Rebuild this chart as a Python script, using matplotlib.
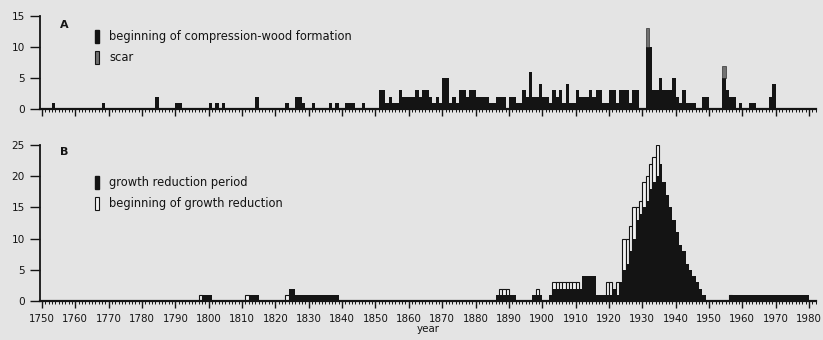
import matplotlib
matplotlib.use("Agg")
import matplotlib.pyplot as plt
from matplotlib.patches import Patch
from matplotlib.ticker import MultipleLocator

# Panel A: compression wood / scars per year (only non-zero years listed)
years_a = [1753, 1768, 1784, 1790, 1791, 1800, 1802, 1804, 1814, 1823,
           1826, 1827, 1828, 1831, 1836, 1838, 1841, 1842, 1843, 1846,
           1851, 1852, 1853, 1854, 1855, 1856, 1857, 1858, 1859, 1860,
           1861, 1862, 1863, 1864, 1865, 1866, 1867, 1868, 1869, 1870,
           1871, 1872, 1873, 1874, 1875, 1876, 1877, 1878, 1879, 1880,
           1881, 1882, 1883, 1884, 1885, 1886, 1887, 1888, 1890, 1891,
           1892, 1893, 1894, 1895, 1896, 1897, 1898, 1899, 1900, 1901,
           1902, 1903, 1904, 1905, 1906, 1907, 1908, 1909, 1910, 1911,
           1912, 1913, 1914, 1915, 1916, 1917, 1918, 1919, 1920, 1921,
           1922, 1923, 1924, 1925, 1926, 1927, 1928, 1931, 1932, 1933,
           1934, 1935, 1936, 1937, 1938, 1939, 1940, 1941, 1942, 1943,
           1944, 1945, 1948, 1949, 1954, 1955, 1956, 1957, 1959, 1962,
           1963, 1968, 1969]
compression = [1, 1, 2, 1, 1, 1, 1, 1, 2, 1,
               2, 2, 1, 1, 1, 1, 1, 1, 1, 1,
               3, 3, 1, 2, 1, 1, 3, 2, 2, 2,
               2, 3, 2, 3, 3, 2, 1, 2, 1, 5,
               5, 1, 2, 1, 3, 3, 2, 3, 3, 2,
               2, 2, 2, 1, 1, 2, 2, 2, 2, 2,
               1, 1, 3, 2, 6, 2, 2, 4, 2, 2,
               1, 3, 2, 3, 1, 4, 1, 1, 3, 2,
               2, 2, 3, 2, 3, 3, 1, 1, 3, 3,
               1, 3, 3, 3, 1, 3, 3, 10, 10, 3,
               3, 5, 3, 3, 3, 5, 2, 1, 3, 1,
               1, 1, 2, 2, 5, 3, 2, 2, 1, 1,
               1, 2, 4]
scar_years = [1931, 1954]
scar = [3, 2]

# Panel B: growth reduction
years_period = ([1798, 1799, 1800, 1812, 1813, 1814, 1824, 1825]
                + list(range(1826, 1839))
                + [1886, 1887, 1888, 1889, 1890, 1891, 1897, 1898, 1899, 1902]
                + list(range(1903, 1949))
                + list(range(1956, 1980)))
period = ([1, 1, 1, 1, 1, 1, 2, 2]
          + [1] * 13
          + [1, 1, 1, 1, 1, 1, 1, 1, 1, 1]
          + [2, 2, 2, 2, 2, 2, 2, 2, 2,          # 1903-1911
             4, 4, 4, 4,                         # 1912-1915
             1, 1, 1, 1, 1, 2, 1, 3, 5, 6,       # 1916-1925
             8, 10, 13, 14, 15, 16, 18, 19, 20, 22,  # 1926-1935
             19, 17, 15, 13, 11, 9, 8, 6, 5, 4,  # 1936-1945
             3, 2, 1]                            # 1946-1948
          + [1] * 24)
years_begin = [1797, 1811, 1823, 1887, 1888, 1889, 1898,
               1903, 1904, 1905, 1906, 1907, 1908, 1909, 1910,
               1919, 1920, 1922, 1924, 1925, 1926, 1927, 1928, 1929,
               1930, 1931, 1932, 1933, 1934, 1956]
begin = [1, 1, 1, 2, 2, 2, 2,
         3, 3, 3, 3, 3, 3, 3, 3,
         3, 3, 3, 10, 10, 12, 15, 15, 16,
         19, 20, 22, 23, 25, 1]

W, H = 823, 340
fig = plt.figure(figsize=(W / 100, H / 100), dpi=100)
fig.patch.set_facecolor("#e4e4e4")
ink = "#141414"


def px_axes(left, top, right, bottom):
    return fig.add_axes([left / W, 1 - bottom / H, (right - left) / W, (bottom - top) / H])


ax_a = px_axes(40, 16, 816, 109)
ax_b = px_axes(40, 145, 816, 301)

ax_a.bar(years_a, compression, width=1, align="edge", color=ink, linewidth=0)
comp_lookup = dict(zip(years_a, compression))
ax_a.bar(scar_years, scar, bottom=[comp_lookup.get(y, 0) for y in scar_years],
         width=1, align="edge", color="#707070", edgecolor=ink, linewidth=0.4)

ax_b.bar(years_begin, begin, width=1, align="edge", color="#f2f2f2",
         edgecolor=ink, linewidth=0.8, zorder=2)
ax_b.bar(years_period, period, width=1, align="edge", color=ink,
         linewidth=0, zorder=3)

for ax, top in ((ax_a, 15), (ax_b, 25)):
    ax.set_facecolor("none")
    ax.set_xlim(1749.4, 1982.1)
    ax.set_ylim(0, top)
    ax.spines["top"].set_visible(False)
    ax.spines["right"].set_visible(False)
    ax.spines["left"].set_linewidth(1.3)
    ax.spines["bottom"].set_linewidth(1.6)
    ax.spines["left"].set_color(ink)
    ax.spines["bottom"].set_color(ink)
    ax.xaxis.set_major_locator(MultipleLocator(10))
    ax.xaxis.set_minor_locator(MultipleLocator(1))
    ax.yaxis.set_major_locator(MultipleLocator(5))
    ax.tick_params(axis="x", which="major", direction="out", length=5,
                   width=1, colors=ink, labelsize=7.4, pad=4)
    ax.tick_params(axis="y", which="major", direction="out", length=7,
                   width=1, colors=ink, labelsize=7.6, pad=4)
    ax.tick_params(axis="x", which="minor", direction="out", length=2.5,
                   width=0.7, colors=ink)

ax_a.tick_params(axis="x", labelbottom=False)
ax_b.set_xlabel("year", fontsize=7.4, color=ink, labelpad=0)

fig.text(60 / W, 1 - 25 / H, "A", fontsize=8, fontweight="bold", color=ink, va="center")
fig.text(60 / W, 1 - 152 / H, "B", fontsize=8, fontweight="bold", color=ink, va="center")

leg_kw = dict(loc="upper left", bbox_transform=fig.transFigure, frameon=False,
              fontsize=8.3, handlelength=0.35, handleheight=1.3, handletextpad=0.9,
              labelspacing=0.7, borderpad=0, borderaxespad=0, labelcolor=ink)
ax_a.legend([Patch(facecolor=ink, edgecolor=ink),
             Patch(facecolor="#707070", edgecolor=ink, linewidth=0.8)],
            ["beginning of compression-wood formation", "scar"],
            bbox_to_anchor=(95 / W, 1 - 30 / H), **leg_kw)
ax_b.legend([Patch(facecolor=ink, edgecolor=ink),
             Patch(facecolor="#f2f2f2", edgecolor=ink, linewidth=0.8)],
            ["growth reduction period", "beginning of growth reduction"],
            bbox_to_anchor=(95 / W, 1 - 176 / H), **leg_kw)

fig.savefig("out.png", dpi=100, facecolor=fig.get_facecolor())
